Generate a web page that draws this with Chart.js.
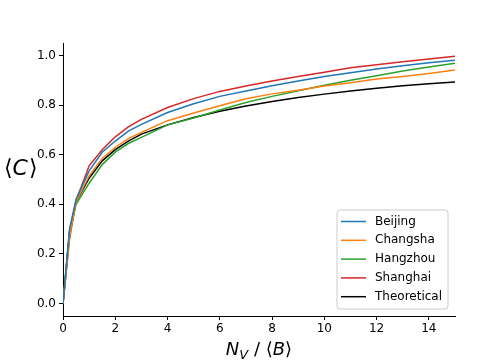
<!DOCTYPE html>
<html>
<head>
  <title>Clustering vs N_V / B</title>
  <script src="https://cdn.jsdelivr.net/npm/chart.js"></script>
  <style>
    body { margin: 0; background: #fff; }
    #wrap { width: 504px; height: 360px; }
  </style>
</head>
<body>
<div id="wrap"><canvas id="myChart" width="504" height="360"></canvas></div>
<script>
// sample points along N_V / <B>
var xValues = [0, 0.25, 0.5, 1, 1.5, 2, 2.5, 3, 4, 5, 6, 7, 8, 9, 10, 11, 12, 13, 14, 15];

var beijing     = [0, 0.30, 0.42, 0.535, 0.61, 0.655, 0.695, 0.722, 0.77, 0.805, 0.835, 0.857, 0.878, 0.897, 0.915, 0.93, 0.945, 0.958, 0.97, 0.981];
var changsha    = [0, 0.27, 0.41, 0.515, 0.585, 0.63, 0.665, 0.69, 0.737, 0.768, 0.797, 0.825, 0.845, 0.86, 0.877, 0.89, 0.905, 0.915, 0.927, 0.941];
var hangzhou    = [0, 0.28, 0.40, 0.485, 0.56, 0.61, 0.645, 0.67, 0.72, 0.748, 0.78, 0.81, 0.835, 0.858, 0.88, 0.9, 0.918, 0.937, 0.953, 0.968];
var shanghai    = [0, 0.26, 0.415, 0.555, 0.62, 0.672, 0.712, 0.742, 0.79, 0.826, 0.855, 0.877, 0.897, 0.915, 0.932, 0.95, 0.962, 0.974, 0.986, 0.997];
var theoretical = [0, 0.29, 0.41, 0.505, 0.575, 0.62, 0.655, 0.683, 0.72, 0.75, 0.775, 0.796, 0.814, 0.83, 0.844, 0.857, 0.868, 0.878, 0.886, 0.893];

var seriesNames = ['Beijing', 'Changsha', 'Hangzhou', 'Shanghai', 'Theoretical'];
var seriesData = [beijing, changsha, hangzhou, shanghai, theoretical];
var seriesColors = ['#1f77b4', '#ff7f0e', '#2ca02c', '#d62728', '#000000'];

var xTicks = [0, 2, 4, 6, 8, 10, 12, 14];
var yTicks = [0, 0.2, 0.4, 0.6, 0.8, 1.0];

function toPoints(ys) {
  return ys.map(function(y, i) { return {x: xValues[i], y: y}; });
}

var datasets = seriesNames.map(function(name, i) {
  return {
    label: name,
    data: toPoints(seriesData[i]),
    borderColor: seriesColors[i],
    backgroundColor: seriesColors[i],
    borderWidth: 1.5,
    pointRadius: 0,
    tension: 0,
    fill: false
  };
});

// axis titles (mathtext style) and the boxed legend inside the plot
var decor = {
  id: 'decor',
  afterDraw: function(chart) {
    var ctx = chart.ctx;
    var area = chart.chartArea;
    ctx.save();
    ctx.fillStyle = '#000';
    ctx.textBaseline = 'alphabetic';

    // y label: <C>
    ctx.font = '22px "DejaVu Sans"';
    var yl = 175;
    var x = 4;
    ctx.fillText('\u27E8', x, yl); x += ctx.measureText('\u27E8').width;
    ctx.font = 'italic 22px "DejaVu Sans"';
    ctx.fillText('C', x, yl); x += ctx.measureText('C').width + 1;
    ctx.font = '22px "DejaVu Sans"';
    ctx.fillText('\u27E9', x, yl);

    // x label: N_V / <B>
    var parts = [
      {t: 'N', f: 'italic 18px "DejaVu Sans"', dy: 0},
      {t: 'V', f: 'italic 13px "DejaVu Sans"', dy: 4},
      {t: ' / ', f: '18px "DejaVu Sans"', dy: 0},
      {t: '\u27E8', f: '18px "DejaVu Sans"', dy: 0},
      {t: 'B', f: 'italic 18px "DejaVu Sans"', dy: 0},
      {t: '\u27E9', f: '18px "DejaVu Sans"', dy: 0}
    ];
    var total = 0;
    parts.forEach(function(p) { ctx.font = p.f; p.w = ctx.measureText(p.t).width; total += p.w; });
    x = (area.left + area.right) / 2 - total / 2;
    var xl = 355;
    parts.forEach(function(p) { ctx.font = p.f; ctx.fillText(p.t, x, xl + p.dy); x += p.w; });

    // legend box
    var bx = 337, by = 210, bw = 111, bh = 99, r = 3;
    ctx.beginPath();
    ctx.moveTo(bx + r, by);
    ctx.arcTo(bx + bw, by, bx + bw, by + bh, r);
    ctx.arcTo(bx + bw, by + bh, bx, by + bh, r);
    ctx.arcTo(bx, by + bh, bx, by, r);
    ctx.arcTo(bx, by, bx + bw, by, r);
    ctx.closePath();
    ctx.fillStyle = 'rgba(255,255,255,0.8)';
    ctx.fill();
    ctx.strokeStyle = '#cccccc';
    ctx.lineWidth = 1;
    ctx.stroke();

    ctx.font = '12px "DejaVu Sans"';
    ctx.textBaseline = 'middle';
    chart.data.datasets.forEach(function(ds, i) {
      var ry = 221.5 + i * 18.8;
      ctx.strokeStyle = ds.borderColor;
      ctx.lineWidth = 1.5;
      ctx.beginPath();
      ctx.moveTo(341, ry);
      ctx.lineTo(366, ry);
      ctx.stroke();
      ctx.fillStyle = '#000';
      ctx.fillText(ds.label, 375, ry);
    });
    ctx.restore();
  }
};

var ctx = document.getElementById('myChart').getContext('2d');
var chart = new Chart(ctx, {
  type: 'line',
  data: { datasets: datasets },
  options: {
    responsive: false,
    animation: false,
    layout: { padding: { left: 0, right: 49, top: 43, bottom: 0 } },
    plugins: { legend: { display: false }, tooltip: { enabled: false } },
    scales: {
      x: {
        type: 'linear',
        min: 0,
        max: 15,
        afterBuildTicks: function(s) { s.ticks = xTicks.map(function(v) { return {value: v}; }); },
        afterFit: function(s) { s.height = 44; },
        ticks: {
          color: '#000',
          font: { family: 'DejaVu Sans', size: 12 },
          padding: 2,
          maxRotation: 0,
          callback: function(v) { return String(v); }
        },
        grid: { drawOnChartArea: false, tickLength: 4, tickColor: '#000', tickWidth: 1 },
        border: { display: true, color: '#000', width: 1 }
      },
      y: {
        type: 'linear',
        min: -0.05,
        max: 1.05,
        afterBuildTicks: function(s) { s.ticks = yTicks.map(function(v) { return {value: v}; }); },
        afterFit: function(s) { s.width = 63; },
        ticks: {
          color: '#000',
          font: { family: 'DejaVu Sans', size: 12 },
          padding: 3,
          callback: function(v) { return v.toFixed(1); }
        },
        grid: { drawOnChartArea: false, tickLength: 4, tickColor: '#000', tickWidth: 1 },
        border: { display: true, color: '#000', width: 1 }
      }
    }
  },
  plugins: [decor]
});
</script>
</body>
</html>
